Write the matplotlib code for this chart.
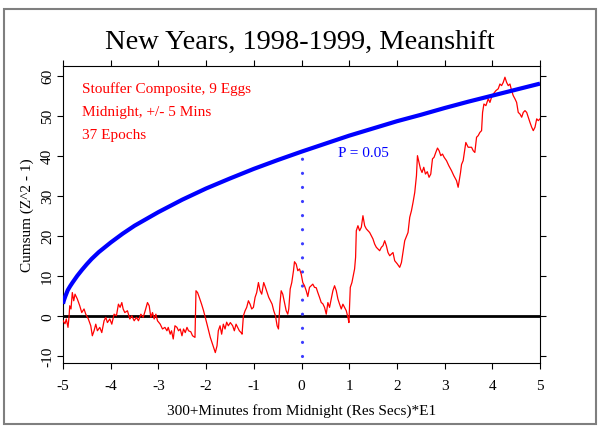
import matplotlib
matplotlib.use("Agg")
import matplotlib.pyplot as plt

# ---- data ----
red_x = [-5.0, -4.958, -4.931, -4.895, -4.874, -4.859, -4.832, -4.805, -4.775, -4.748,
         -4.700, -4.649, -4.607, -4.559, -4.523, -4.469, -4.418, -4.385, -4.349, -4.313,
         -4.279, -4.229, -4.187, -4.139, -4.103, -4.069, -4.019, -3.977, -3.929, -3.880,
         -3.838, -3.803, -3.767, -3.739, -3.704, -3.649, -3.599, -3.557, -3.508, -3.460,
         -3.418, -3.368, -3.319, -3.277, -3.229, -3.193, -3.158, -3.124, -3.088, -3.053,
         -3.019, -2.962, -2.914, -2.863, -2.821, -2.794, -2.752, -2.725, -2.689, -2.653,
         -2.611, -2.578, -2.542, -2.506, -2.473, -2.437, -2.401, -2.368, -2.321, -2.284,
         -2.233, -2.212, -2.179, -2.143, -2.095, -2.053, -2.017, -1.981, -1.947, -1.912,
         -1.876, -1.842, -1.807, -1.771, -1.744, -1.708, -1.674, -1.639, -1.603, -1.569,
         -1.534, -1.492, -1.443, -1.408, -1.372, -1.338, -1.303, -1.267, -1.246, -1.218,
         -1.183, -1.149, -1.113, -1.078, -1.044, -1.008, -0.973, -0.939, -0.903, -0.868,
         -0.834, -0.792, -0.756, -0.721, -0.687, -0.651, -0.616, -0.582, -0.546, -0.511,
         -0.483, -0.452, -0.426, -0.393, -0.357, -0.321, -0.288, -0.267, -0.237, -0.204,
         -0.168, -0.147, -0.111, -0.078, -0.042, -0.006, 0.027, 0.063, 0.099, 0.132,
         0.168, 0.204, 0.237, 0.273, 0.309, 0.342, 0.378, 0.414, 0.447, 0.483,
         0.519, 0.553, 0.588, 0.624, 0.658, 0.693, 0.729, 0.763, 0.798, 0.834,
         0.868, 0.903, 0.939, 0.973, 0.994, 1.023, 1.057, 1.092, 1.113, 1.134,
         1.149, 1.183, 1.218, 1.254, 1.288, 1.324, 1.359, 1.393, 1.429, 1.464,
         1.498, 1.534, 1.569, 1.603, 1.639, 1.674, 1.708, 1.744, 1.779, 1.813,
         1.849, 1.884, 1.918, 1.954, 2.006, 2.059, 2.095, 2.122, 2.164, 2.233,
         2.269, 2.305, 2.338, 2.374, 2.410, 2.431, 2.464, 2.494, 2.527, 2.563,
         2.599, 2.637, 2.674, 2.710, 2.746, 2.779, 2.815, 2.851, 2.884, 2.920,
         2.956, 2.990, 3.040, 3.088, 3.145, 3.193, 3.250, 3.284, 3.334, 3.355,
         3.389, 3.445, 3.494, 3.565, 3.599, 3.634, 3.670, 3.704, 3.739, 3.775,
         3.796, 3.824, 3.866, 3.914, 3.950, 3.985, 4.019, 4.076, 4.124, 4.160,
         4.195, 4.229, 4.265, 4.300, 4.334, 4.370, 4.405, 4.439, 4.475, 4.510,
         4.544, 4.580, 4.616, 4.649, 4.685, 4.721, 4.754, 4.790, 4.826, 4.859,
         4.895, 4.931, 4.964, 5.0]
red_y = [-1.2, -2.0, -0.8, -2.9, -0.3, 2.5, 1.7, 5.8, 3.75, 5.4,
         4.2, 2.5, 0.8, 1.7, 0.4, -0.8, -2.5, -5.0, -3.75, -2.1,
         -3.75, -2.9, -4.2, -1.25, -0.4, -1.7, -0.8, -2.1, 0.4, 0.0,
         2.9, 2.1, 3.3, 1.7, 0.8, 1.25, -0.8, 0.0, -1.25, -0.4,
         -1.25, 0.4, -0.4, 1.25, 3.3, 2.5, -0.4, 0.8, -0.8, 0.4,
         -1.25, -2.1, -3.3, -2.9, -3.75, -2.9, -4.6, -3.75, -5.8, -2.5,
         -2.9, -3.75, -3.3, -5.0, -3.3, -4.2, -2.9, -3.75, -4.0, -5.0,
         -5.4, 6.25, 5.8, 4.6, 2.9, 1.25, -0.4, -2.1, -3.75, -5.4,
         -6.7, -7.9, -9.2, -7.5, -3.75, -2.5, -4.6, -2.1, -3.3, -1.6,
         -2.5, -1.7, -2.5, -3.75, -2.1, -2.9, -3.75, -4.2, -4.6, 0.0,
         1.25, 2.1, 3.75, 2.9, 1.7, 2.1, 4.6, 5.8, 8.3, 6.25,
         5.4, 8.3, 7.1, 5.8, 4.6, 3.75, 2.9, 1.25, 0.0, -2.5,
         -3.3, 3.0, 6.25, 5.4, 3.3, 1.25, 0.4, 1.7, 6.7, 8.3,
         11.25, 13.5, 12.9, 11.25, 11.7, 10.4, 8.3, 7.5, 6.25, 4.8,
         7.1, 7.5, 7.9, 7.1, 7.0, 5.8, 4.6, 3.3, 3.0, 2.1,
         0.4, 3.3, 2.1, 4.2, 6.25, 7.5, 6.25, 4.2, 2.9, 1.7,
         2.9, 2.1, 1.25, -0.4, -1.7, 7.1, 8.3, 10.4, 11.7, 14.6,
         21.25, 22.5, 21.25, 22.1, 25.0, 22.5, 21.7, 21.25, 20.8, 20.0,
         19.2, 17.9, 17.1, 16.7, 16.25, 17.1, 17.5, 18.75, 17.5, 15.8,
         15.0, 15.4, 15.8, 13.75, 13.0, 12.1, 13.3, 15.5, 18.75, 20.8,
         24.6, 26.25, 28.3, 30.8, 35.0, 40.0, 38.3, 36.7, 35.8, 37.1,
         35.4, 36.0, 34.6, 35.4, 39.2, 39.6, 40.8, 41.9, 41.25, 40.0,
         40.4, 39.6, 38.75, 37.5, 36.25, 35.0, 33.75, 32.1, 35.8, 37.8,
         38.75, 43.3, 42.1, 42.1, 41.25, 40.8, 44.6, 45.0, 45.8, 46.25,
         50.8, 52.9, 52.5, 54.2, 53.3, 54.6, 55.4, 56.25, 56.7, 57.9,
         57.5, 58.3, 59.6, 58.3, 57.5, 57.9, 56.25, 55.0, 54.2, 53.3,
         50.8, 50.4, 49.6, 50.8, 51.25, 50.8, 49.6, 48.3, 47.1, 46.25,
         47.1, 49.2, 48.75, 49.2]

blue_x = [-5.0, -4.98, -4.95, -4.9, -4.85, -4.8, -4.7, -4.6, -4.5, -4.4, -4.25,
          -4.0, -3.75, -3.5, -3.25, -3.0, -2.5, -2.0, -1.5, -1.0, -0.5,
          0.0, 0.5, 1.0, 1.5, 2.0, 2.5, 3.0, 3.5, 4.0, 4.5, 5.0]
blue_y = [3.0, 3.9, 4.9, 6.4, 7.4, 8.3, 10.0, 11.5, 12.9, 14.2, 15.9,
          18.3, 20.5, 22.5, 24.2, 25.9, 29.0, 31.8, 34.3, 36.7, 38.9,
          41.0, 43.0, 45.0, 46.8, 48.6, 50.2, 51.9, 53.5, 55.0, 56.5, 58.0]

pline_x = [0.0, 0.0]
pline_y = [-10.0, 40.5]

xticks = [-5, -4, -3, -2, -1, 0, 1, 2, 3, 4, 5]
yticks = [-10, 0, 10, 20, 30, 40, 50, 60]

title = "New Years, 1998-1999, Meanshift"
xlabel = "300+Minutes from Midnight (Res Secs)*E1"
ylabel = "Cumsum (Z^2 - 1)"
notes = ["Stouffer Composite, 9 Eggs", "Midnight, +/- 5 Mins", "37 Epochs"]
plabel = "P = 0.05"

# ---- drawing ----
plt.rcParams['font.family'] = ['Liberation Serif', 'DejaVu Serif']
plt.rcParams['axes.unicode_minus'] = False

W, H = 598, 431
fig = plt.figure(figsize=(W / 100, H / 100), dpi=100)
ax = fig.add_axes([63 / W, 1 - 364 / H, (540 - 63) / W, (364 - 67) / H])

ax.set_xlim(-5, 5)
ax.set_ylim(-11.8, 62.4)

ax.axhline(0, color='black', lw=2.0, zorder=2)
ax.plot(pline_x, pline_y, color='#3c3cff', lw=2.3,
        linestyle=(0, (0.01, 4.4)), dash_capstyle='round', zorder=3)
ax.plot(red_x, red_y, color='red', lw=0.9, zorder=4)
ax.plot(blue_x, blue_y, color='blue', lw=3.0, solid_capstyle='butt', zorder=5)

ax.set_xticks(xticks)
ax.set_yticks(yticks)
ax.tick_params(axis='both', direction='out', length=4.5, width=0.8,
               labelsize=11, top=True, right=True, labeltop=False, labelright=False)
ax.tick_params(axis='x', pad=7)
ax.tick_params(axis='y', pad=2)
for lab in ax.get_yticklabels():
    lab.set_rotation(90)
    lab.set_va('center')
for sp in ax.spines.values():
    sp.set_linewidth(0.8)

ax.set_xlabel(xlabel, fontsize=11, labelpad=8)
ax.set_ylabel(ylabel, fontsize=11, labelpad=5)

fig.text(300 / W, 1 - 42 / H, title, ha='center', va='center', fontsize=20.5)

for i, t in enumerate(notes):
    ax.text(0.04, 0.925 - i * 0.077, t, transform=ax.transAxes, color='red',
            fontsize=11, ha='left', va='center')
ax.text(0.63, 0.71, plabel, transform=ax.transAxes, color='blue',
        fontsize=11, ha='center', va='center')

# grey outer frame
frame = plt.Rectangle((4 / W, 1 - 425 / H), (596 - 4) / W, (425 - 10) / H,
                      transform=fig.transFigure, fill=False, edgecolor='#7f7f7f',
                      lw=1.5)
fig.patches.append(frame)

fig.savefig("out.png", dpi=100)
